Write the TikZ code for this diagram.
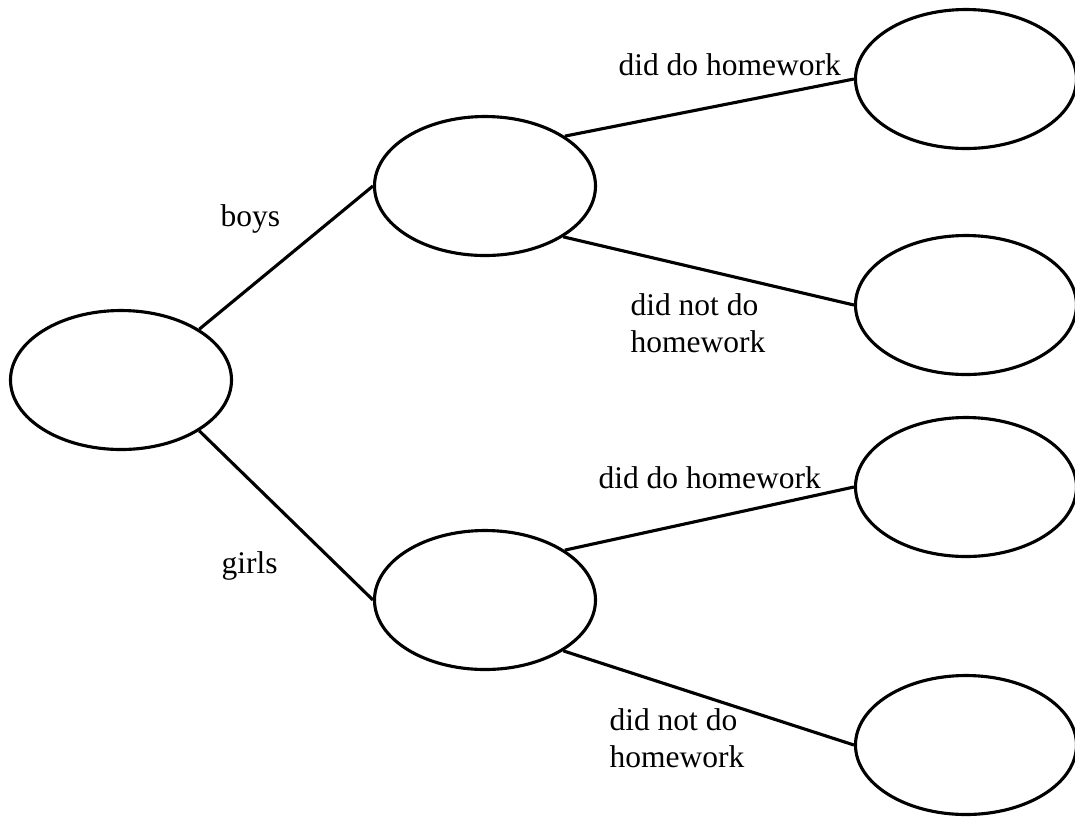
\documentclass[tikz,border=0pt]{standalone}
\usepackage{fontspec}
\setmainfont{Liberation Serif}
\usetikzlibrary{shapes.geometric, positioning}

\begin{document}
\begin{tikzpicture}[x=0.4pt, y=-0.4pt, line width=1.25pt,
    outcome/.style={ellipse, draw, minimum width=88.4pt, minimum height=55.6pt, inner sep=0pt},
    branch/.style={anchor=base west, align=left, inner sep=0pt, font=\fontsize{12.6}{14.8}\selectfont}]

    \useasboundingbox (0,0) rectangle (1075,816);

    % Define outcomes
    \node[outcome] (root)  at (121,380) {};
    \node[outcome] (boys)  at (485,186) {};
    \node[outcome] (girls) at (485,600) {};
    \node[outcome] (bdo)   at (966,79)  {};
    \node[outcome] (bnot)  at (966,305) {};
    \node[outcome] (gdo)   at (966,487) {};
    \node[outcome] (gnot)  at (966,745) {};

    % Branches
    \path   (root.33)   edge (boys.west)
            (root.-33)  edge (girls.west)
            (boys.32)   edge (bdo.west)
            (boys.-33)  edge (bnot.west)
            (girls.32)  edge (gdo.west)
            (girls.-33) edge (gnot.west);

    % Labels (base = last line)
    \node[branch] (lboys)  at (219,226) {boys};
    \node[branch] (lgirls) at (220,573) {girls};
    \node[branch] (lbdo)   at (617,75)  {did do homework};
    \node[branch] (lbnot)  at (629,352) {did not do\\homework};
    \node[branch] (lgdo)   at (597,488) {did do homework};
    \node[branch] (lgnot)  at (608,767) {did not do\\homework};

\end{tikzpicture}
\end{document}
